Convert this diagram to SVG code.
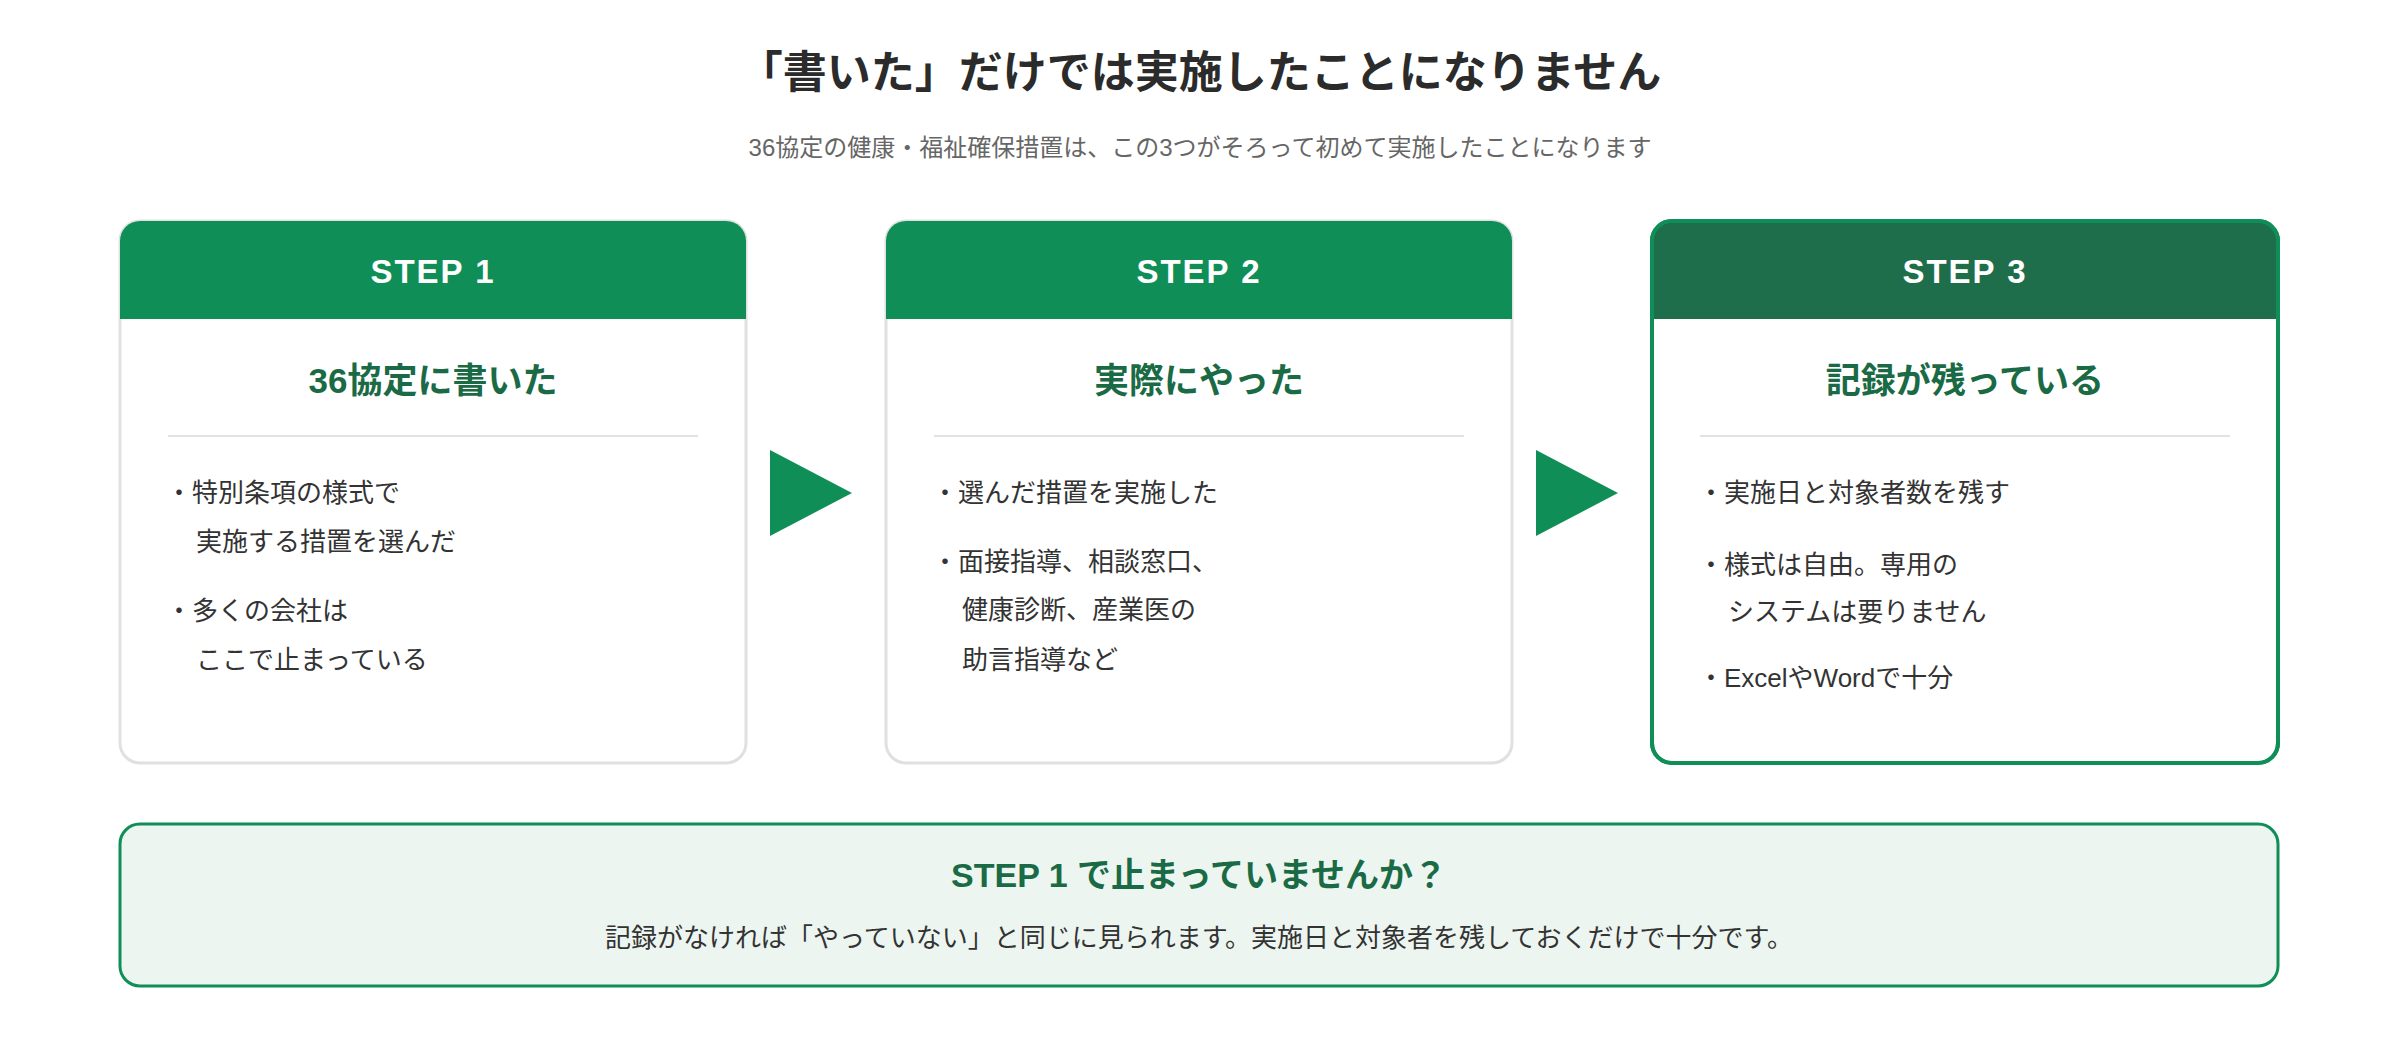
<svg xmlns="http://www.w3.org/2000/svg" width="2400" height="1040" viewBox="0 0 2400 1040">
<style>
text{font-family:"Liberation Sans","Noto Sans CJK JP",sans-serif}
.ttl{font-size:44px;font-weight:bold;fill:#2b2b2b}
.sub{font-size:24px;fill:#666}
.hd{font-size:33px;font-weight:bold;fill:#fff;letter-spacing:2px}
.ct{font-size:35px;font-weight:bold;fill:#1a6b45}
.bl{font-size:26px;fill:#333}
.card{fill:#fff;stroke:#e0e0e0;stroke-width:3}
.card3{fill:#fff;stroke:#0f8f57;stroke-width:4}
.div{stroke:#e2e2e2;stroke-width:2}
.bt{font-size:34px;font-weight:bold;fill:#1a6b45}
.bs{font-size:26px;fill:#333}
</style>
<rect width="2400" height="1040" fill="#fff"/>
<text class="ttl" x="1200" y="88" text-anchor="middle">「書いた」だけでは実施したことになりません</text>
<text class="sub" x="1200" y="156" text-anchor="middle">36協定の健康・福祉確保措置は、この3つがそろって初めて実施したことになります</text>
<g id="step1">
<rect class="card" x="120" y="221" width="626" height="542" rx="20"/>
<path d="M120,241 a20,20 0 0 1 20,-20 h586 a20,20 0 0 1 20,20 v78 h-626z" fill="#0f8f57"/>
<text class="hd" x="433" y="283" text-anchor="middle">STEP 1</text>
<text class="ct" x="433" y="393" text-anchor="middle">36協定に書いた</text>
<line class="div" x1="168" y1="436" x2="698" y2="436"/>
<text class="bl" x="166" y="502">・特別条項の様式で</text>
<text class="bl" x="196" y="551">実施する措置を選んだ</text>
<text class="bl" x="166" y="620">・多くの会社は</text>
<text class="bl" x="196" y="669">ここで止まっている</text>
</g>
<g id="step2">
<rect class="card" x="886" y="221" width="626" height="542" rx="20"/>
<path d="M886,241 a20,20 0 0 1 20,-20 h586 a20,20 0 0 1 20,20 v78 h-626z" fill="#0f8f57"/>
<text class="hd" x="1199" y="283" text-anchor="middle">STEP 2</text>
<text class="ct" x="1199" y="393" text-anchor="middle">実際にやった</text>
<line class="div" x1="934" y1="436" x2="1464" y2="436"/>
<text class="bl" x="932" y="502">・選んだ措置を実施した</text>
<text class="bl" x="932" y="571">・面接指導、相談窓口、</text>
<text class="bl" x="962" y="619">健康診断、産業医の</text>
<text class="bl" x="962" y="669">助言指導など</text>
</g>
<g id="step3">
<rect class="card3" x="1652" y="221" width="626" height="542" rx="20"/>
<path d="M1652,241 a20,20 0 0 1 20,-20 h586 a20,20 0 0 1 20,20 v78 h-626z" fill="#1f6e4b"/>
<rect x="1652" y="221" width="626" height="542" rx="20" fill="none" stroke="#0f8f57" stroke-width="4"/>
<text class="hd" x="1965" y="283" text-anchor="middle">STEP 3</text>
<text class="ct" x="1965" y="393" text-anchor="middle">記録が残っている</text>
<line class="div" x1="1700" y1="436" x2="2230" y2="436"/>
<text class="bl" x="1698" y="502">・実施日と対象者数を残す</text>
<text class="bl" x="1698" y="574">・様式は自由。専用の</text>
<text class="bl" x="1728" y="621">システムは要りません</text>
<text class="bl" x="1698" y="687">・ExcelやWordで十分</text>
</g>
<g id="connectors">
<polygon points="770,450 852,493 770,536" fill="#0f8f57"/>
<polygon points="1536,450 1618,493 1536,536" fill="#0f8f57"/>
</g>
<g id="note">
<rect x="120" y="824" width="2158" height="162" rx="20" fill="#edf5f0" stroke="#0f8f57" stroke-width="3"/>
<text class="bt" x="1199" y="887" text-anchor="middle">STEP 1 で止まっていませんか？</text>
<text class="bs" x="1199" y="947" text-anchor="middle">記録がなければ「やっていない」と同じに見られます。実施日と対象者を残しておくだけで十分です。</text>
</g>
</svg>
